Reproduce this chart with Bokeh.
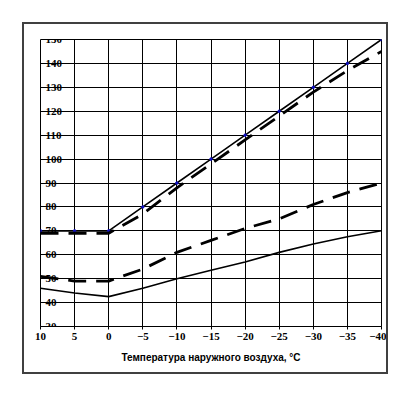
from bokeh.plotting import figure
from bokeh.layouts import column, row
from bokeh.models import Range1d, FixedTicker, ColumnDataSource, Spacer
from bokeh.core.properties import value
from bokeh.embed import file_html
from bokeh.resources import INLINE

temps = [10, 5, 0, -5, -10, -15, -20, -25, -30, -35, -40]
upper_solid = [70, 70, 70, 80, 90, 100, 110, 120, 130, 140, 150]
upper_dashed = [69, 69, 69, 77, 88, 98, 108, 118, 128, 137, 145]
lower_dashed = [51, 49, 49, 54, 61, 66, 71, 75, 81, 86, 90]
lower_solid = [46, 44, 42.5, 46, 50, 53.5, 57, 61, 64.5, 67.5, 70]
y_ticks = [30, 40, 50, 60, 70, 80, 90, 100, 110, 120, 130, 140, 150]
x_ticks = [10, 5, 0, -5, -10, -15, -20, -25, -30, -35, -40]
x_title = "Температура наружного воздуха, °C"

p = figure(width=366, height=352, output_backend="svg", toolbar_location=None,
           x_range=Range1d(10, -40), y_range=Range1d(30, 150),
           min_border_left=16, min_border_right=9, min_border_top=15, min_border_bottom=50)
p.styles = {"border": "2px solid #404040"}
p.background_fill_color = "white"
p.border_fill_color = "white"
p.outline_line_color = "black"
p.outline_line_width = 1

p.xgrid.ticker = FixedTicker(ticks=x_ticks)
p.ygrid.ticker = FixedTicker(ticks=y_ticks)
for g in (p.xgrid, p.ygrid):
    g.grid_line_color = "black"
    g.grid_line_width = 1
    g.grid_line_alpha = 1

p.yaxis.visible = False
ax = p.xaxis[0]
ax.ticker = FixedTicker(ticks=x_ticks)
ax.axis_line_color = "black"
ax.major_tick_out = 3
ax.major_tick_in = 0
ax.minor_tick_out = 0
ax.minor_tick_in = 0
ax.major_label_standoff = 3
ax.major_label_text_font = "Liberation Serif"
ax.major_label_text_font_style = "bold"
ax.major_label_text_font_size = "11px"
ax.major_label_text_color = "black"
ax.axis_label = x_title
ax.axis_label_text_font = "Liberation Sans"
ax.axis_label_text_font_style = "bold"
ax.axis_label_text_font_size = "10px"
ax.axis_label_text_color = "black"
ax.axis_label_standoff = 9

src = ColumnDataSource(dict(x=[10] * len(y_ticks), y=y_ticks, t=[str(v) for v in y_ticks]))
p.text(x="x", y="y", text="t", source=src, x_offset=5, text_align="left",
       text_baseline="middle", text_font=value("Liberation Serif"),
       text_font_style="bold", text_font_size="11px", text_color="black")

p.line(temps, upper_solid, line_color="black", line_width=1.6)
p.scatter(temps, upper_solid, size=2.5, color="#1010c0")
p.line(temps, upper_dashed, line_color="black", line_width=2.8, line_dash="18 10")
p.line(temps, lower_dashed, line_color="black", line_width=2.8, line_dash="18 10")
p.line(temps, lower_solid, line_color="black", line_width=1.6)

layout = column(Spacer(width=10, height=22), row(Spacer(width=22, height=10), p))
open("out.html", "w").write(file_html(layout, INLINE))
